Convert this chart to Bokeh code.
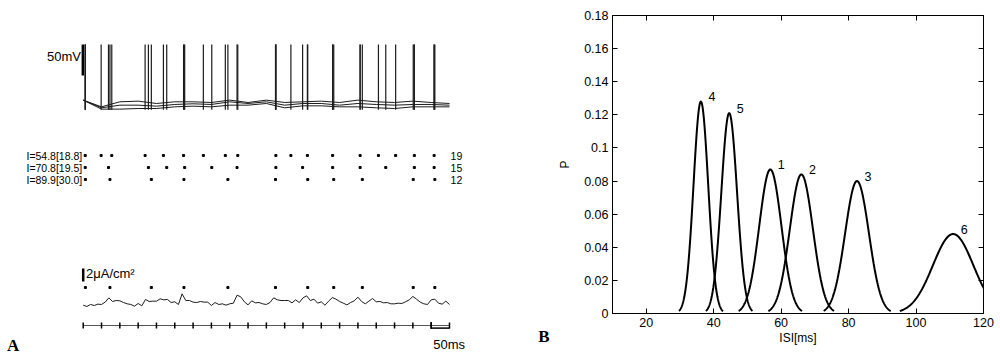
import numpy as np
from bokeh.plotting import figure
from bokeh.models import Range1d, LinearAxis, CustomJSTickFormatter, FixedTicker
from bokeh.layouts import row
from bokeh.embed import file_html
from bokeh.resources import INLINE
from bokeh.core.properties import value

# ---------------- data: panel A ----------------
# spike times (ms) of the three trials (raster rows)
SPIKES_1 = [5.5, 49, 78, 169, 219, 274, 328, 388, 422, 526, 567, 612, 681, 756, 806, 853, 904, 958]
SPIKES_2 = [5.5, 69, 178, 228, 277, 351, 420, 526, 599, 681, 756, 826, 904, 958]
SPIKES_3 = [6, 73, 186, 275, 395, 525, 613, 684, 762, 901, 960]
TRIAL_LABELS = ["I=54.8[18.8]", "I=70.8[19.5]", "I=89.9[30.0]"]
SPIKE_COUNTS = ["19", "15", "12"]
TRIAL_ROWS = [1, 2, 3]

# sub-threshold membrane potential (mV) of the three traces
BASE_T = [0, 50, 100, 150, 200, 250, 300, 350, 400, 450, 500,
          550, 600, 650, 700, 750, 800, 850, 900, 950, 1000]
BASE_V1 = [-59.6, -70.4, -62.3, -61.2, -65.0, -62.3, -62.3, -63.4, -59.6, -63.4, -59.6,
           -63.4, -62.3, -61.2, -63.4, -59.6, -62.3, -63.4, -61.2, -63.4, -65.0]
BASE_V2 = [-59.6, -72.0, -67.7, -67.7, -69.3, -66.6, -65.5, -66.6, -62.3, -65.0, -62.3,
           -67.7, -65.0, -65.0, -67.7, -65.0, -66.6, -67.7, -66.6, -66.6, -67.7]
BASE_V3 = [-59.6, -74.1, -74.1, -73.1, -73.1, -70.4, -69.3, -70.4, -67.7, -67.7, -65.0,
           -72.0, -68.8, -68.8, -70.4, -70.4, -72.0, -73.1, -70.4, -70.4, -70.4]
SPIKE_PEAK_MV = 30
SPIKE_TROUGH_MV = -75

# noisy input current (uA/cm^2, relative), sampled every 10 ms
CUR_T = list(range(0, 1001, 10))
CUR_I = [-0.26, -0.46, -0.15, -0.31, -0.10, -0.15, 0.21, 0.87, 0.31, 0.46,
         0.41, 0.15, -0.05, -0.15, -0.41, 0.00, -0.36, 0.62, 0.31, 0.36,
         0.36, 0.72, 0.56, 0.62, 0.15, 0.26, -0.15, 1.49, 0.46, 0.46,
         0.21, 0.15, 0.31, 0.21, 0.21, -0.31, 0.15, -0.15, -0.05, -0.26,
         -0.05, 0.05, 1.28, 1.03, 0.26, -0.21, 0.41, 0.10, 0.15, -0.05,
         -0.15,
         0.15, 0.87, 0.56, 0.46, 0.46, 0.46, 0.10, 0.56, 0.15, 0.87,
         1.18, 0.46, 0.67, 0.05, 0.26, -0.26, 0.36, 0.92, 0.67, 0.31,
         0.05, -0.21, 0.15, 0.41, 0.97, 0.31, -0.05, 0.36, 0.77, 0.26,
         0.31, 0.10, 0.15, -0.05, -0.05, 0.05, 0.00, 0.26, 0.56, 1.08,
         0.67, 0.21, -0.05, -0.15, 0.56, 0.67, 0.05, -0.10, 0.36, -0.15]

TIME_TICKS = [0, 50, 100, 150, 200, 250, 300, 350, 400, 450, 500,
              550, 600, 650, 700, 750, 800, 850, 900, 950, 1000]
TIME_END = 1000
SCALE_MS = 50
SCALE_MV = 50
SCALE_UA = 2

# ---------------- data: panel B ----------------
ISI_NAMES = ["1", "2", "3", "4", "5", "6"]
ISI_MEAN = [56.8, 66.0, 82.5, 36.2, 44.6, 111.0]
ISI_SD = [3.30, 3.43, 3.53, 2.18, 2.33, 6.0]
ISI_PEAK = [0.087, 0.084, 0.080, 0.128, 0.121, 0.048]
ISI_LO = [47.4, 56.2, 72.6, 29.7, 37.7, 95.2]
ISI_HI = [66.2, 75.7, 92.5, 42.8, 51.5, 126.8]
X_TICKS = [20, 40, 60, 80, 100, 120]
Y_TICKS = [0, 0.02, 0.04, 0.06, 0.08, 0.1, 0.12, 0.14, 0.16, 0.18]

FONT = "Liberation Sans"
SERIF = "Liberation Serif"
H = 358

# ================= panel A (also hosts the "B" panel letter) =================
pl = figure(width=555, height=H, output_backend="svg", toolbar_location=None,
            x_range=Range1d(-225.8, 1289.4), y_range=Range1d(-476.3, 101.1),
            x_axis_type=None, y_axis_type=None, min_border=0,
            outline_line_color=None)
pl.grid.visible = False
pl.extra_y_ranges = {
    "raster": Range1d(17.917, -11.917),
    "cur": Range1d(-8.462, 46.615),
    "tax": Range1d(-33, 325),
}

trace_col = "#1c1c1c"
for base_v, spikes in ((BASE_V1, SPIKES_1), (BASE_V2, SPIKES_2), (BASE_V3, SPIKES_3)):
    pl.line(BASE_T, base_v, line_color=trace_col, line_width=1)
    pl.segment(x0=spikes, y0=SPIKE_TROUGH_MV, x1=spikes, y1=SPIKE_PEAK_MV,
               line_color=trace_col, line_width=1.2)

# 50 mV scale bar
pl.segment(x0=-1, y0=SPIKE_PEAK_MV, x1=-1, y1=SPIKE_PEAK_MV - SCALE_MV,
           line_color="black", line_width=2.5)
pl.text(x=[-6], y=[SPIKE_PEAK_MV - 19], text=["%dmV" % SCALE_MV],
        text_font=value(FONT), text_font_size=value("13px"),
        text_align="right", text_baseline="middle", text_color="black")

# raster
for r, spikes in zip(TRIAL_ROWS, (SPIKES_1, SPIKES_2, SPIKES_3)):
    pl.scatter(spikes, [r] * len(spikes), y_range_name="raster", marker="square",
               size=2, color="black")
pl.text(x=[-2.7] * 3, y=TRIAL_ROWS, text=TRIAL_LABELS, y_range_name="raster",
        text_font=value(FONT), text_font_size=value("10.5px"),
        text_align="right", text_baseline="middle", text_color="black")
pl.text(x=[1003] * 3, y=TRIAL_ROWS, text=SPIKE_COUNTS, y_range_name="raster",
        text_font=value(FONT), text_font_size=value("10.5px"),
        text_align="left", text_baseline="middle", text_color="black")

# current trace
pl.line(CUR_T, CUR_I, y_range_name="cur", line_color="#1c1c1c", line_width=1)
pl.scatter(SPIKES_3, [2.46] * len(SPIKES_3), y_range_name="cur", marker="square",
           size=2, color="black")
pl.segment(x0=0, y0=3.38, x1=0, y1=3.38 + SCALE_UA, y_range_name="cur",
           line_color="black", line_width=2.5)
pl.text(x=[7.6], y=[4.6], text=["%d\u03bcA/cm\u00b2" % SCALE_UA], y_range_name="cur",
        text_font=value(FONT), text_font_size=value("13px"),
        text_align="left", text_baseline="middle", text_color="black")

# time axis with 50 ms scale bar
n = len(TIME_TICKS)
pl.segment(x0=0, y0=0, x1=TIME_END, y1=0, y_range_name="tax",
           line_color="#555555", line_width=1.2)
pl.segment(x0=TIME_TICKS, y0=[-3] * n, x1=TIME_TICKS, y1=[3] * n, y_range_name="tax",
           line_color="black", line_width=1.5)
pl.segment(x0=TIME_END - SCALE_MS, y0=-2.6, x1=TIME_END, y1=-2.6, y_range_name="tax",
           line_color="black", line_width=1.5)
pl.segment(x0=TIME_END - SCALE_MS, y0=-3.5, x1=TIME_END - SCALE_MS, y1=3.5,
           y_range_name="tax", line_color="black", line_width=1.5)
pl.text(x=[TIME_END - SCALE_MS + 5.5], y=[-19], text=["%dms" % SCALE_MS], y_range_name="tax",
        text_font=value(FONT), text_font_size=value("13px"),
        text_align="left", text_baseline="middle", text_color="black")

# panel letters
pl.text(x=[-191.6, 1258.0], y=[-19.5, -10.5], text=["A", "B"], y_range_name="tax",
        text_font=value(SERIF), text_font_style="bold", text_font_size=value("17px"),
        text_align="center", text_baseline="middle", text_color="black")

# ================= panel B =================
pr = figure(width=443, height=H, output_backend="svg", toolbar_location=None,
            x_range=Range1d(10, 120), y_range=Range1d(0, 0.18),
            min_border_left=52, min_border_right=15,
            min_border_top=15, min_border_bottom=45,
            outline_line_color="black", outline_line_width=1)
pr.grid.visible = False

for f in (pl, pr):
    if hasattr(f, "frame_align"):
        f.frame_align = False

xs, ys = [], []
for mu, sd, pk, lo, hi in zip(ISI_MEAN, ISI_SD, ISI_PEAK, ISI_LO, ISI_HI):
    xx = np.linspace(lo, hi, 240)
    xs.append(xx)
    ys.append(pk * np.exp(-((xx - mu) ** 2) / (2 * sd ** 2)))
pr.multi_line(xs, ys, line_color="black", line_width=2)
pr.text(x=ISI_MEAN, y=ISI_PEAK, text=ISI_NAMES, x_offset=11, y_offset=-5,
        text_font=value(FONT), text_font_size=value("12.5px"),
        text_align="center", text_baseline="middle", text_color="black")

for ax, ticks in ((pr.xaxis[0], X_TICKS), (pr.yaxis[0], Y_TICKS)):
    ax.ticker = FixedTicker(ticks=ticks)
    ax.major_tick_in = 5
    ax.major_tick_out = 0
    ax.minor_tick_line_color = None
    ax.axis_line_color = "black"
    ax.major_tick_line_color = "black"
    ax.major_label_text_font = FONT
    ax.major_label_text_font_size = "12.5px"
    ax.major_label_text_color = "black"
    ax.axis_label_text_font = FONT
    ax.axis_label_text_font_size = "12px"
    ax.axis_label_text_font_style = "normal"
    ax.axis_label_text_color = "black"
    ax.major_label_standoff = 4

pr.xaxis.axis_label = "ISI[ms]"
pr.xaxis.axis_label_standoff = 1
pr.yaxis.axis_label = "P"
pr.yaxis.axis_label_standoff = 9
pr.yaxis.formatter = CustomJSTickFormatter(
    code=r"return tick.toFixed(2).replace(/0+$/, '').replace(/\.$/, '');")

for loc, ticks in (("above", X_TICKS), ("right", Y_TICKS)):
    ax = LinearAxis(ticker=FixedTicker(ticks=ticks), major_tick_in=5, major_tick_out=0,
                    minor_tick_line_color=None,
                    formatter=CustomJSTickFormatter(code="return '';"),
                    major_label_text_font_size="1px",
                    major_label_standoff=0, axis_line_color="black",
                    major_tick_line_color="black")
    pr.add_layout(ax, loc)

layout = row(pl, pr)
open("out.html", "w").write(file_html(layout, INLINE))
